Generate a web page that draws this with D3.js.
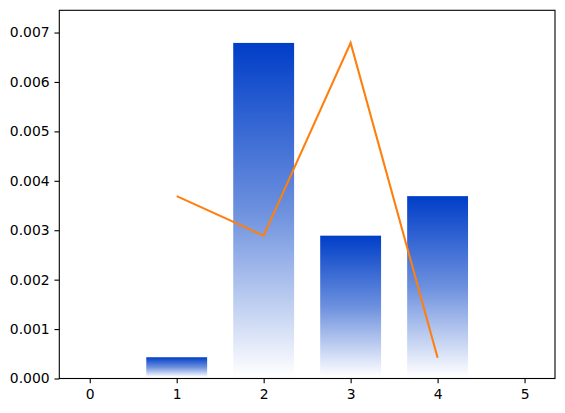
<!DOCTYPE html>
<html><head><meta charset="utf-8">
<script src="https://cdn.jsdelivr.net/npm/d3@7"></script>
<style>body{margin:0;background:#fff}svg{display:block}</style>
</head><body>
<script>
const categories = [0, 1, 2, 3, 4, 5];
const barValues = [0, 0.00043, 0.00679, 0.00289, 0.00369, 0];
const lineX = [1, 2, 3, 4];
const lineValues = [0.00369, 0.00289, 0.00679, 0.00042];
const xTicks = [0, 1, 2, 3, 4, 5];
const yTicks = [0, 0.001, 0.002, 0.003, 0.004, 0.005, 0.006, 0.007];

const W = 565, H = 413;
const L = 59.3, R = 555, T = 10.3, B = 378.5;
const svg = d3.select("body").append("svg").attr("width", W).attr("height", H);

const x = d3.scaleLinear().domain([-0.35, 5.35]).range([L, R]);
const y = d3.scaleLinear().domain([0, 0.00745]).range([B, T]);
const barW = 0.7;

const defs = svg.append("defs");
const g = defs.append("linearGradient").attr("id", "grad")
  .attr("x1", 0).attr("y1", 0).attr("x2", 0).attr("y2", 1);
g.append("stop").attr("offset", "0%").attr("stop-color", "rgb(0,62,200)");
g.append("stop").attr("offset", "50%").attr("stop-color", "rgb(108,144,222)");
g.append("stop").attr("offset", "100%").attr("stop-color", "rgb(255,255,255)");

const data = categories.map((c, i) => ({c, v: barValues[i]})).filter(d => d.v > 0);
svg.append("g").selectAll("rect").data(data).join("rect")
  .attr("x", d => x(d.c - barW / 2))
  .attr("width", d => x(d.c + barW / 2) - x(d.c - barW / 2))
  .attr("y", d => y(d.v))
  .attr("height", d => y(0) - y(d.v) - 1.5)
  .attr("fill", "url(#grad)");

const line = d3.line().x((d, i) => x(lineX[i])).y(d => y(d));
svg.append("path").datum(lineValues).attr("d", line)
  .attr("fill", "none").attr("stroke", "#ff7f0e").attr("stroke-width", 2.08)
  .attr("stroke-linecap", "butt");

const font = "DejaVu Sans, sans-serif";
const xAxis = svg.append("g").attr("transform", `translate(0,${B})`)
  .call(d3.axisBottom(x).tickValues(xTicks).tickFormat(d3.format("d")).tickSizeOuter(0).tickSize(4.86).tickPadding(6));
const yAxis = svg.append("g").attr("transform", `translate(${L},0)`)
  .call(d3.axisLeft(y).tickValues(yTicks).tickFormat(d3.format(".3f")).tickSizeOuter(0).tickSize(4.86).tickPadding(4.86));
[xAxis, yAxis].forEach(a => {
  a.select(".domain").remove();
  a.selectAll(".tick line").attr("stroke", "#000").attr("stroke-width", 1.1);
  a.selectAll(".tick text").attr("fill", "#000").style("font-family", font).style("font-size", "13.9px");
});

svg.append("rect").attr("x", L).attr("y", T).attr("width", R - L).attr("height", B - T)
  .attr("fill", "none").attr("stroke", "#000").attr("stroke-width", 1.1);
</script>
</body></html>
